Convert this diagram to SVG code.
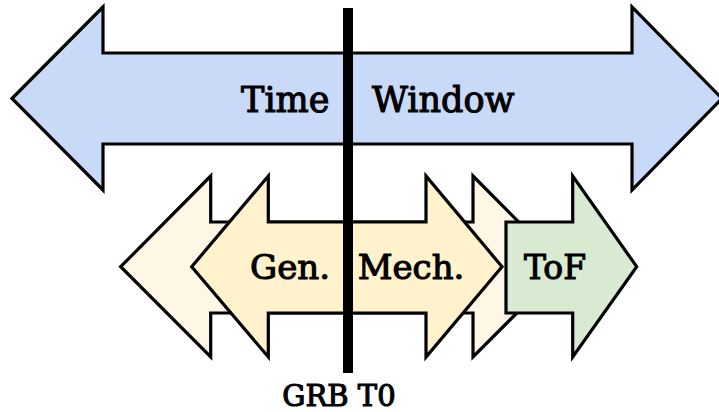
<svg xmlns="http://www.w3.org/2000/svg" width="719" height="412" viewBox="0 0 719 412">
<style>
.shape{stroke:#000;stroke-width:3.2;stroke-linejoin:miter;stroke-miterlimit:10}
.lbl{font-family:"DejaVu Serif","Liberation Serif",serif;font-weight:normal;fill:#000;stroke:#000;stroke-width:1.1}
</style>
<rect width="719" height="412" fill="#fff"/>
<g id="time-window">
<path class="shape" fill="#c9daf8" d="M12,98.5 L103,7 L103,53 L632,53 L632,7 L722,98.5 L632,190 L632,144 L103,144 L103,190 Z"/>
<text class="lbl" x="329.5" y="111.5" font-size="35" text-anchor="end">Time</text>
<text class="lbl" x="372" y="111.5" font-size="35">Window</text>
</g>
<g id="outer-range">
<path class="shape" fill="#fff7e6" d="M120.7,266.7 L210.7,176 L210.7,222 L473,222 L473,176 L563,266.7 L473,357 L473,313 L210.7,313 L210.7,357 Z"/>
</g>
<g id="gen-mech">
<path class="shape" fill="#fff2cc" d="M191.7,266.7 L268.3,176 L268.3,222 L426,222 L426,176 L502,266.7 L426,357 L426,313 L268.3,313 L268.3,357 Z"/>
<text class="lbl" x="290" y="279" font-size="34" text-anchor="middle">Gen.</text>
<text class="lbl" x="411" y="279" font-size="34" text-anchor="middle">Mech.</text>
</g>
<g id="tof">
<path class="shape" fill="#d9ead3" d="M506,222 L572.7,222 L572.7,176 L636.7,266.7 L572.7,357 L572.7,313 L506,313 Z"/>
<text class="lbl" x="555" y="279" font-size="33" text-anchor="middle">ToF</text>
</g>
<g id="connectors">
<line x1="348" y1="8" x2="348" y2="373" stroke="#000" stroke-width="10"/>
</g>
<g id="grb-t0">
<text class="lbl" x="339" y="406" font-size="29" text-anchor="middle">GRB T0</text>
</g>
</svg>
